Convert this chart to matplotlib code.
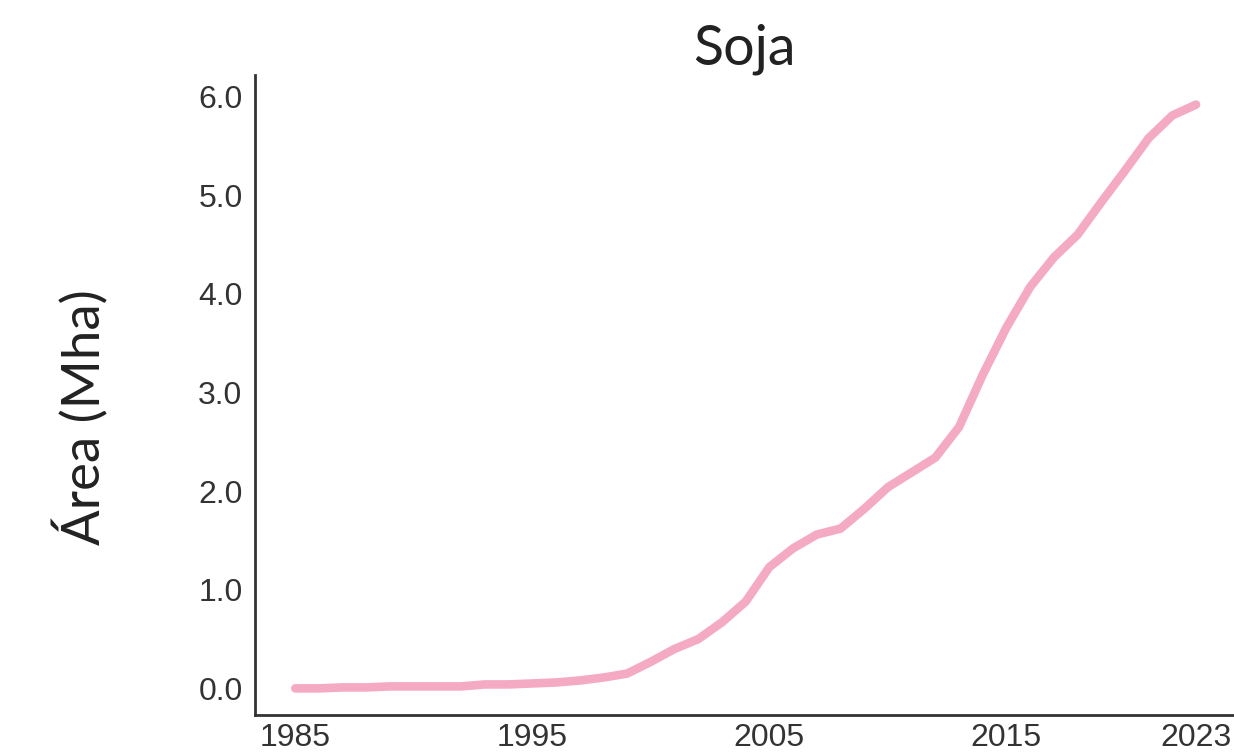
import matplotlib
matplotlib.use("Agg")
import matplotlib.pyplot as plt
import numpy as np

# Soja area (Mha)
years = list(range(1985, 2024))
area = [0.00, 0.00, 0.01, 0.01, 0.02, 0.02, 0.02, 0.02, 0.04, 0.04,
        0.05, 0.06, 0.08, 0.11, 0.15, 0.27, 0.40, 0.50, 0.67, 0.88,
        1.23, 1.42, 1.56, 1.62, 1.82, 2.04, 2.19, 2.34, 2.65, 3.18,
        3.66, 4.07, 4.37, 4.60, 4.93, 5.25, 5.58, 5.81, 5.92]

xticks = [1985, 1995, 2005, 2015, 2023]
yticks = [0, 1, 2, 3, 4, 5, 6]


def main():
    fig = plt.figure(figsize=(12.34, 7.53), dpi=100)
    ax = fig.add_axes([255 / 1234, 38 / 753, 979 / 1234, 640 / 753])

    ax.plot(years, area, color="#f4aac3", lw=6.2,
            solid_capstyle="round", solid_joinstyle="round")

    ax.set_xlim(1983.3, 2024.6)
    ax.set_ylim(-0.27, 6.22)
    ax.set_xticks(xticks)
    ax.set_yticks(yticks)
    ax.set_yticklabels(["%.1f" % v for v in yticks])

    for s in ["top", "right"]:
        ax.spines[s].set_visible(False)
    for s in ["left", "bottom"]:
        ax.spines[s].set_color("#333333")
        ax.spines[s].set_linewidth(2)

    ax.tick_params(length=0, labelcolor="#333333")
    ax.tick_params(axis="y", labelsize=23, pad=9)
    ax.tick_params(axis="x", labelsize=23, pad=6)
    for lab in ax.get_xticklabels() + ax.get_yticklabels():
        lab.set_family("Liberation Sans")

    ax.set_title("Soja", fontsize=40, family="Lato", color="#222222", pad=5)
    ax.set_ylabel("Área (Mha)", fontsize=38, family="Lato", color="#222222")
    ax.yaxis.set_label_coords(-0.149, 0.466)

    fig.savefig("out.png", dpi=100)


if __name__ == "__main__":
    main()
